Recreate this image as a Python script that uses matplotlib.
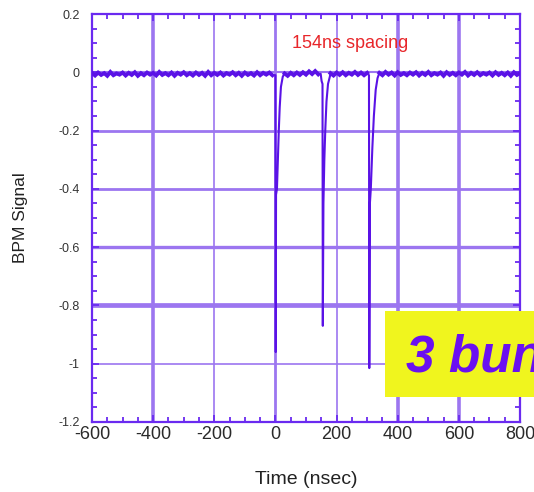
import numpy as np
import matplotlib
matplotlib.use('Agg')
import matplotlib.pyplot as plt
from matplotlib.patches import Rectangle

plt.rcParams['font.family'] = ['Liberation Sans', 'DejaVu Sans']
plt.rcParams['axes.unicode_minus'] = False

TRACE = '#5a12e6'
GRID = '#9c76f0'
FRAME = '#6a2af0'

# baseline samples (ns, signal)
seg_a_t = np.arange(-600, 0, 10)
seg_a_v = [-0.002, -0.011, -0.001, -0.009, -0.003, -0.012, 0.001, -0.010, -0.004, -0.008,
           -0.001, -0.011, -0.002, -0.009, 0.000, -0.012, -0.003, -0.010, -0.001, -0.008,
           -0.002, -0.011, 0.001, -0.009, -0.003, -0.010, -0.001, -0.012, -0.002, -0.008,
           0.000, -0.010, -0.003, -0.011, -0.001, -0.009, -0.002, -0.012, 0.001, -0.010,
           -0.002, -0.009, -0.001, -0.011, -0.003, -0.008, 0.000, -0.010, -0.002, -0.012,
           -0.001, -0.009, -0.003, -0.011, 0.000, -0.010, -0.002, -0.008, -0.001, -0.010]
seg_b_t = np.arange(30, 150, 10)
seg_b_v = [-0.004, -0.012, -0.002, -0.010, -0.001, -0.009, 0.000, -0.008, 0.003, -0.006, 0.004, -0.007]
seg_c_t = np.arange(180, 310, 10)
seg_c_v = [-0.003, -0.011, -0.001, -0.009, 0.000, -0.010, -0.002, -0.008, 0.001, -0.009, -0.001, -0.010, -0.002]
seg_d_t = np.arange(340, 810, 10)
seg_d_v = [-0.002, -0.010, 0.001, -0.008, -0.001, -0.011, 0.000, -0.009, -0.003, -0.010,
           -0.001, -0.008, 0.000, -0.011, -0.002, -0.009, 0.001, -0.010, -0.003, -0.008,
           -0.001, -0.012, 0.000, -0.009, -0.002, -0.010, -0.001, -0.008, 0.001, -0.011,
           -0.002, -0.009, 0.000, -0.010, -0.003, -0.008, -0.001, -0.011, 0.000, -0.009,
           -0.002, -0.010, -0.001, -0.012, 0.000, -0.009, -0.003]

# the three bunches
pulse1_t = [0, 1, 2, 5, 8, 11, 14, 18, 24]
pulse1_v = [-0.01, -0.96, -0.42, -0.40, -0.30, -0.20, -0.12, -0.05, -0.015]
pulse2_t = [148, 151, 154, 155, 157, 160, 163, 167, 172, 178]
pulse2_v = [-0.005, -0.03, -0.04, -0.87, -0.45, -0.30, -0.20, -0.10, -0.04, -0.015]
pulse3_t = [306, 307, 309, 312, 317, 322, 328, 334]
pulse3_v = [-0.01, -1.015, -0.45, -0.40, -0.26, -0.15, -0.06, -0.02]

x_ticks = [-600, -400, -200, 0, 200, 400, 600, 800]
y_ticks = [0.2, 0, -0.2, -0.4, -0.6, -0.8, -1, -1.2]
y_labels = ['0.2', '0', '-0.2', '-0.4', '-0.6', '-0.8', '-1', '-1.2']

vgrid = [-400, -200, 0, 200, 400, 600]
vgrid_w = [2.6, 1.2, 2.0, 1.2, 2.6, 2.6]
hgrid = [0, -0.2, -0.4, -0.6, -0.8, -1.0]
hgrid_w = [1.5, 2.0, 2.0, 2.4, 3.4, 1.2]

time = np.concatenate([seg_a_t, pulse1_t, seg_b_t, pulse2_t, seg_c_t, pulse3_t, seg_d_t])
signal = np.concatenate([seg_a_v, pulse1_v, seg_b_v, pulse2_v, seg_c_v, pulse3_v, seg_d_v])

fig = plt.figure(figsize=(5.34, 4.92), dpi=100)
ax = fig.add_axes([92 / 534, 70 / 492, 428 / 534, 408 / 492])

for x, w in zip(vgrid, vgrid_w):
    ax.axvline(x, color=GRID, lw=w, zorder=1)
for y, w in zip(hgrid, hgrid_w):
    ax.axhline(y, color=GRID, lw=w, zorder=1)

ax.plot(time, signal, color=TRACE, lw=1.5, zorder=3)
# noisy baseline shows as a thicker band
for bt, bv in [(seg_a_t, seg_a_v), (seg_b_t, seg_b_v), (seg_c_t, seg_c_v), (seg_d_t, seg_d_v)]:
    ax.plot(bt, bv, color=TRACE, lw=2.8, zorder=3, solid_joinstyle='miter')

ax.set_xlim(-600, 800)
ax.set_ylim(-1.2, 0.2)
ax.set_xticks(x_ticks)
ax.set_xticklabels([str(v) for v in x_ticks], fontsize=13, color='#2a2a2a')
ax.set_yticks(y_ticks)
ax.set_yticklabels(y_labels, fontsize=9, color='#333333')
ax.set_xticks(np.arange(-600, 801, 50), minor=True)
ax.set_yticks(np.arange(-1.2, 0.201, 0.05), minor=True)
ax.tick_params(which='both', direction='in', top=True, right=True, color=FRAME, width=1.3)
ax.tick_params(which='major', length=5)
ax.tick_params(which='minor', length=3.5)
ax.tick_params(axis='x', pad=3)
ax.tick_params(axis='y', pad=9)
for s in ax.spines.values():
    s.set_color(FRAME)
    s.set_linewidth(1.6)

ax.set_xlabel('Time (nsec)', fontsize=14, labelpad=20, color='#222222')
ax.set_ylabel('BPM Signal', fontsize=12.5, labelpad=22, color='#222222')

ax.text(244, 0.1, '154ns spacing', color='#e8262a', fontsize=13, ha='center', va='center')

fig.patches.append(Rectangle((385 / 534, 95 / 492), 0.3, 86 / 492, transform=fig.transFigure,
                             facecolor='#f0f51e', edgecolor='none', zorder=5))
fig.text(406 / 534, 120 / 492, '3 bunches', fontsize=37, fontweight='bold', fontstyle='italic',
         color='#6a10f0', va='baseline', ha='left', zorder=6)

fig.savefig('out.png', dpi=100)
